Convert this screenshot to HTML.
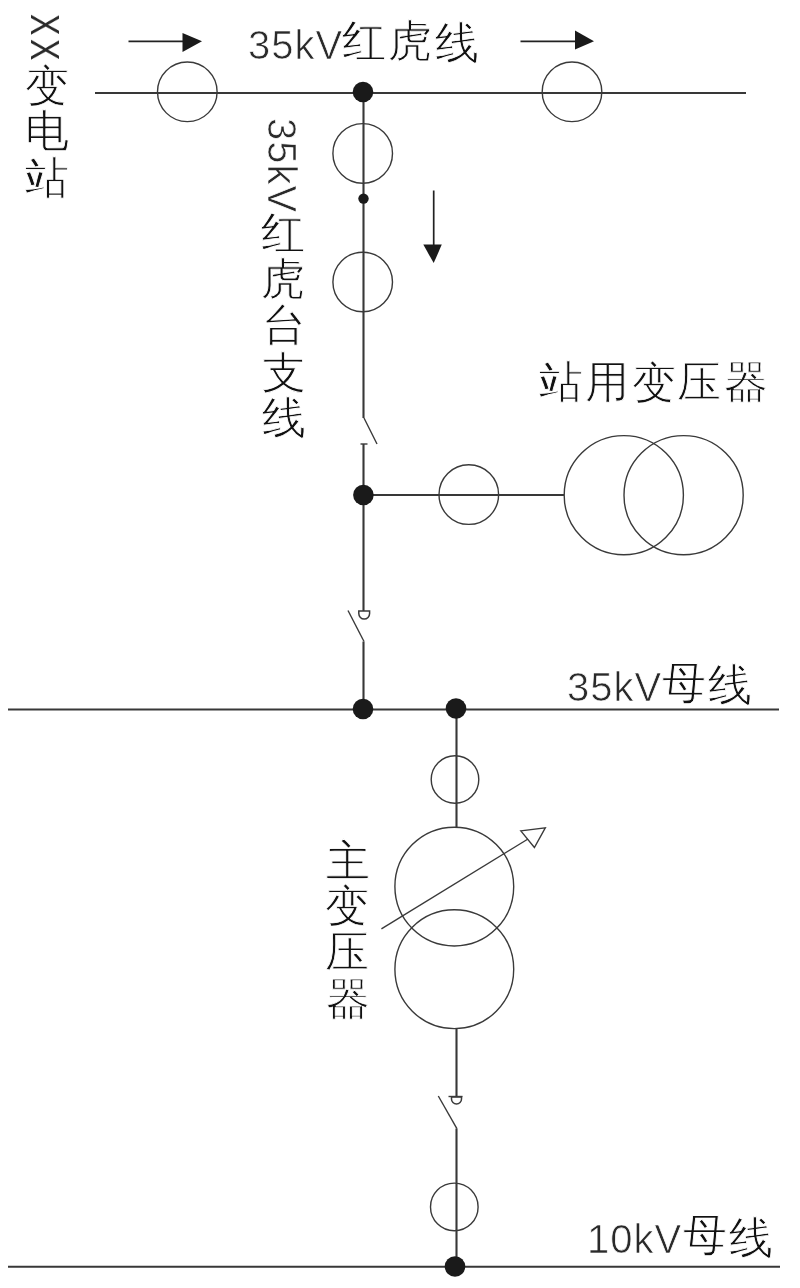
<!DOCTYPE html>
<html>
<head>
<meta charset="utf-8">
<style>
html,body{margin:0;padding:0;background:#fff;}
body{width:800px;height:1288px;position:relative;overflow:hidden;font-family:"Liberation Sans",sans-serif;color:#111;}
svg{position:absolute;left:0;top:0;}
#w{position:absolute;left:0;top:0;width:800px;height:1288px;background:#fff;}
.t{position:absolute;white-space:nowrap;line-height:1;-webkit-text-stroke:0.85px #fff;will-change:transform;}
.c{font-size:44px;}
.l{font-size:40px;letter-spacing:1px;-webkit-text-stroke:0.7px #fff;color:#2a2a2a;}
</style>
</head>
<body>
<div id="w">
<svg width="800" height="1288" viewBox="0 0 800 1288">
  <g stroke="#383838" stroke-width="2.1" fill="none">
    <!-- top line -->
    <line x1="95" y1="93" x2="746" y2="93"/>
    <!-- vertical 363 -->
    <line x1="363.5" y1="92" x2="363.5" y2="418"/>
    <line x1="363.5" y1="444" x2="363.5" y2="611"/>
    <line x1="363.5" y1="641.5" x2="363.5" y2="709.5"/>
    <!-- branch -->
    <line x1="363" y1="495" x2="564" y2="495"/>
    <!-- 35kV bus -->
    <line x1="8" y1="709.5" x2="779" y2="709.5"/>
    <!-- vertical 456 -->
    <line x1="456.5" y1="709" x2="456.5" y2="827"/>
    <line x1="456.5" y1="1028" x2="456.5" y2="1096.5"/>
    <line x1="456.5" y1="1128.5" x2="456.5" y2="1266"/>
    <!-- 10kV bus -->
    <line x1="8" y1="1266.8" x2="780" y2="1266.8"/>
  </g>
  <g stroke="#222" stroke-width="1.7" fill="none">
    <line x1="128.5" y1="41.3" x2="190" y2="41.3"/>
    <line x1="520.5" y1="41.3" x2="582" y2="41.3"/>
    <line x1="433.7" y1="190.5" x2="433.7" y2="250"/>
  </g>
  <g stroke="#3a3a3a" stroke-width="1.4" fill="none">
    <circle cx="187.3" cy="91.8" r="29.8"/>
    <circle cx="572" cy="91.8" r="29.8"/>
    <circle cx="362.7" cy="153.4" r="29.8"/>
    <circle cx="362.7" cy="282" r="29.8"/>
    <circle cx="468.8" cy="494.6" r="29.8"/>
    <circle cx="623.8" cy="495.2" r="59.6"/>
    <circle cx="683.6" cy="495.2" r="59.6"/>
    <circle cx="455" cy="779.5" r="23.8"/>
    <circle cx="454.3" cy="886.6" r="59.4"/>
    <circle cx="454.3" cy="969.2" r="59.4"/>
    <circle cx="454.3" cy="1206.9" r="23.8"/>
    <!-- switch 1 -->
    <line x1="364" y1="418" x2="377" y2="444"/>
    <line x1="360.5" y1="444" x2="367.5" y2="444"/>
    <!-- switch 2 -->
    <line x1="348" y1="610.5" x2="364" y2="641.5"/>
    <path d="M358.8 611 H369.6 V613.5 A5.4 5.6 0 0 1 358.8 613.5 Z" stroke-width="1.5"/>
    <!-- switch 3 -->
    <line x1="438.3" y1="1096" x2="456.9" y2="1128.6"/>
    <line x1="448.5" y1="1096.5" x2="462.5" y2="1096.5"/>
    <path d="M451.5 1097 H461.5 V1099 A5 5 0 0 1 451.5 1099 Z" stroke-width="1.5"/>
    <!-- main transformer arrow -->
    <line x1="381.4" y1="928.8" x2="528" y2="839"/>
    <polygon points="520.8,830.9 545.3,827.8 534.4,847.5"/>
  </g>
  <g fill="#1a1a1a" stroke="none">
    <circle cx="363" cy="92" r="10.3"/>
    <circle cx="363.5" cy="198.6" r="5.2"/>
    <circle cx="363.4" cy="495" r="10.3"/>
    <circle cx="363" cy="709" r="10.3"/>
    <circle cx="456" cy="708.5" r="10.3"/>
    <circle cx="455" cy="1266.5" r="10.3"/>
    <polygon points="182.5,33 202,41.3 182.5,52"/>
    <polygon points="575,30.6 594,41.3 575,49.4"/>
    <polygon points="423.3,244.6 441.8,244.6 433.7,263.1"/>
  </g>
</svg>
<div class="t l" style="left:247.7px;top:24.7px">35kV</div>
<div class="t l" style="left:566.8px;top:667px">35kV</div>
<div class="t l" style="left:587px;top:1218.8px">10kV</div>
<div class="t l" style="left:301.5px;top:118.2px;transform-origin:0 0;transform:rotate(90deg)">35kV</div>
<div class="t l" style="left:64.8px;top:14.2px;transform-origin:0 0;transform:rotate(90deg) scaleX(0.8);-webkit-text-stroke:0">X</div>
<div class="t l" style="left:64.8px;top:38.7px;transform-origin:0 0;transform:rotate(90deg) scaleX(0.8);-webkit-text-stroke:0">X</div>
<div class="t c" style="left:341.6px;top:19.4px">红</div>
<div class="t c" style="left:387.6px;top:19.3px">虎</div>
<div class="t c" style="left:434.5px;top:20.6px">线</div>
<div class="t c" style="left:539.0px;top:359.8px">站</div>
<div class="t c" style="left:585.0px;top:359.5px">用</div>
<div class="t c" style="left:632.1px;top:361.0px">变</div>
<div class="t c" style="left:676.8px;top:359.8px">压</div>
<div class="t c" style="left:724.4px;top:360.0px">器</div>
<div class="t c" style="left:661.6px;top:661.0px">母</div>
<div class="t c" style="left:707.9px;top:662.9px">线</div>
<div class="t c" style="left:682.9px;top:1213.1px">母</div>
<div class="t c" style="left:729.1px;top:1215.8px">线</div>
<div class="t c" style="left:25.1px;top:64.0px">变</div>
<div class="t c" style="left:25.0px;top:108.7px">电</div>
<div class="t c" style="left:24.8px;top:156.1px">站</div>
<div class="t c" style="left:261.4px;top:210.5px">红</div>
<div class="t c" style="left:261.0px;top:257.1px">虎</div>
<div class="t c" style="left:261.5px;top:302.8px">台</div>
<div class="t c" style="left:261.5px;top:350.7px">支</div>
<div class="t c" style="left:261.5px;top:396.4px">线</div>
<div class="t c" style="left:325.5px;top:839.1px">主</div>
<div class="t c" style="left:325.1px;top:884.3px">变</div>
<div class="t c" style="left:324.8px;top:930.3px">压</div>
<div class="t c" style="left:325.5px;top:976.5px">器</div>
</div>
</body>
</html>
